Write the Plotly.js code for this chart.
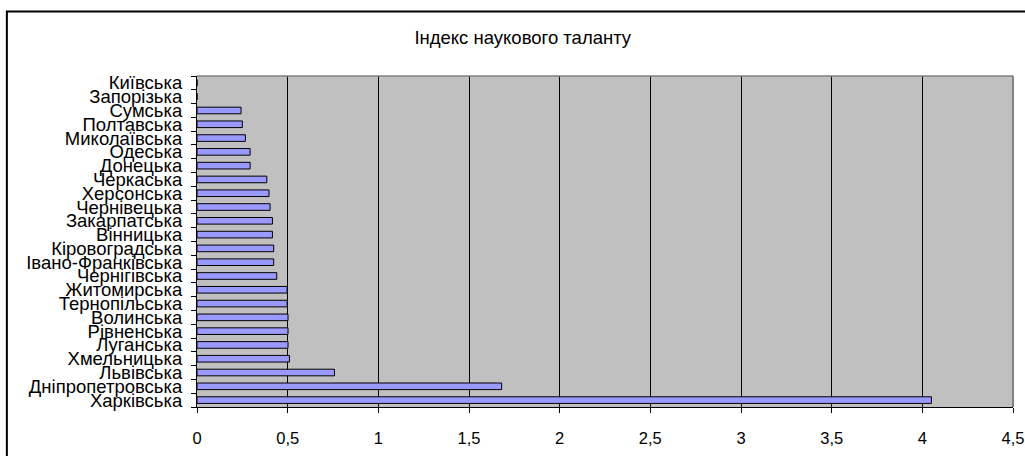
<!DOCTYPE html>
<html>
<head>
<meta charset="utf-8">
<script src="https://cdn.plot.ly/plotly-3.0.1.min.js"></script>
<style>html,body{margin:0;padding:0;background:#fff;}#chart{width:1025px;height:456px;}</style>
</head>
<body>
<div id="chart"></div>
<script>
const regions = ["Харківська","Дніпропетровська","Львівська","Хмельницька","Луганська","Рівненська","Волинська","Тернопільська","Житомирська","Чернігівська","Івано-Франківська","Кіровоградська","Вінницька","Закарпатська","Чернівецька","Херсонська","Черкаська","Донецька","Одеська","Миколаївська","Полтавська","Сумська","Запорізька","Київська"];
const talentIndex = [4.05,1.68,0.758,0.51,0.502,0.502,0.502,0.497,0.497,0.44,0.423,0.423,0.416,0.416,0.403,0.397,0.385,0.293,0.293,0.267,0.25,0.243,0,0];
const xTicks = [0,0.5,1,1.5,2,2.5,3,3.5,4,4.5];
const chartTitle = "Індекс наукового таланту";

const trace = {
  type: 'bar', orientation: 'h',
  y: regions, x: talentIndex,
  marker: {color: '#9999ff', line: {color: '#000000', width: 1}},
  hoverinfo: 'x+y'
};
const layout = {
  width: 1025, height: 456,
  margin: {l: 197, r: 12, t: 76, b: 49},
  paper_bgcolor: '#ffffff', plot_bgcolor: '#c0c0c0',
  separators: ', ',
  bargap: 0.52,
  showlegend: false,
  font: {family: 'Liberation Sans, Arial, sans-serif', color: '#000'},
  title: {text: chartTitle, font: {size: 18.5, color: '#000'}, x: 0.51, xanchor: 'center', y: 0.918, yanchor: 'middle'},
  xaxis: {
    range: [0, 4.5], tickvals: xTicks, ticks: 'outside', ticklen: 5, tickcolor: '#000',
    showgrid: true, gridcolor: '#000', gridwidth: 1, zeroline: false,
    showline: true, linecolor: '#000', linewidth: 1,
    tickfont: {size: 16.5}, ticklabelstandoff: 11, fixedrange: true
  },
  yaxis: {
    type: 'category', categoryorder: 'array', categoryarray: regions,
    tickmode: 'array', tickvals: regions, ticktext: regions,
    ticks: 'outside', tickson: 'boundaries', ticklen: 5, tickcolor: '#000',
    showgrid: false, showline: true, linecolor: '#000', linewidth: 1,
    tickfont: {size: 18.5}, ticklabelstandoff: 10, fixedrange: true
  },
  shapes: [
    {type: 'line', xref: 'paper', yref: 'paper', x0: 0, x1: 1, y0: 1, y1: 1, line: {color: '#808080', width: 1.5}},
    {type: 'line', xref: 'paper', yref: 'paper', x0: 1, x1: 1, y0: 0, y1: 1, line: {color: '#808080', width: 2}},
    {type: 'rect', xref: 'paper', yref: 'paper', x0: -0.233, x1: 1.05, y0: -0.2, y1: 1.195, line: {color: '#000', width: 2}, layer: 'below'}
  ]
};
Plotly.newPlot('chart', [trace], layout, {displayModeBar: false, staticPlot: true});
</script>
</body>
</html>
